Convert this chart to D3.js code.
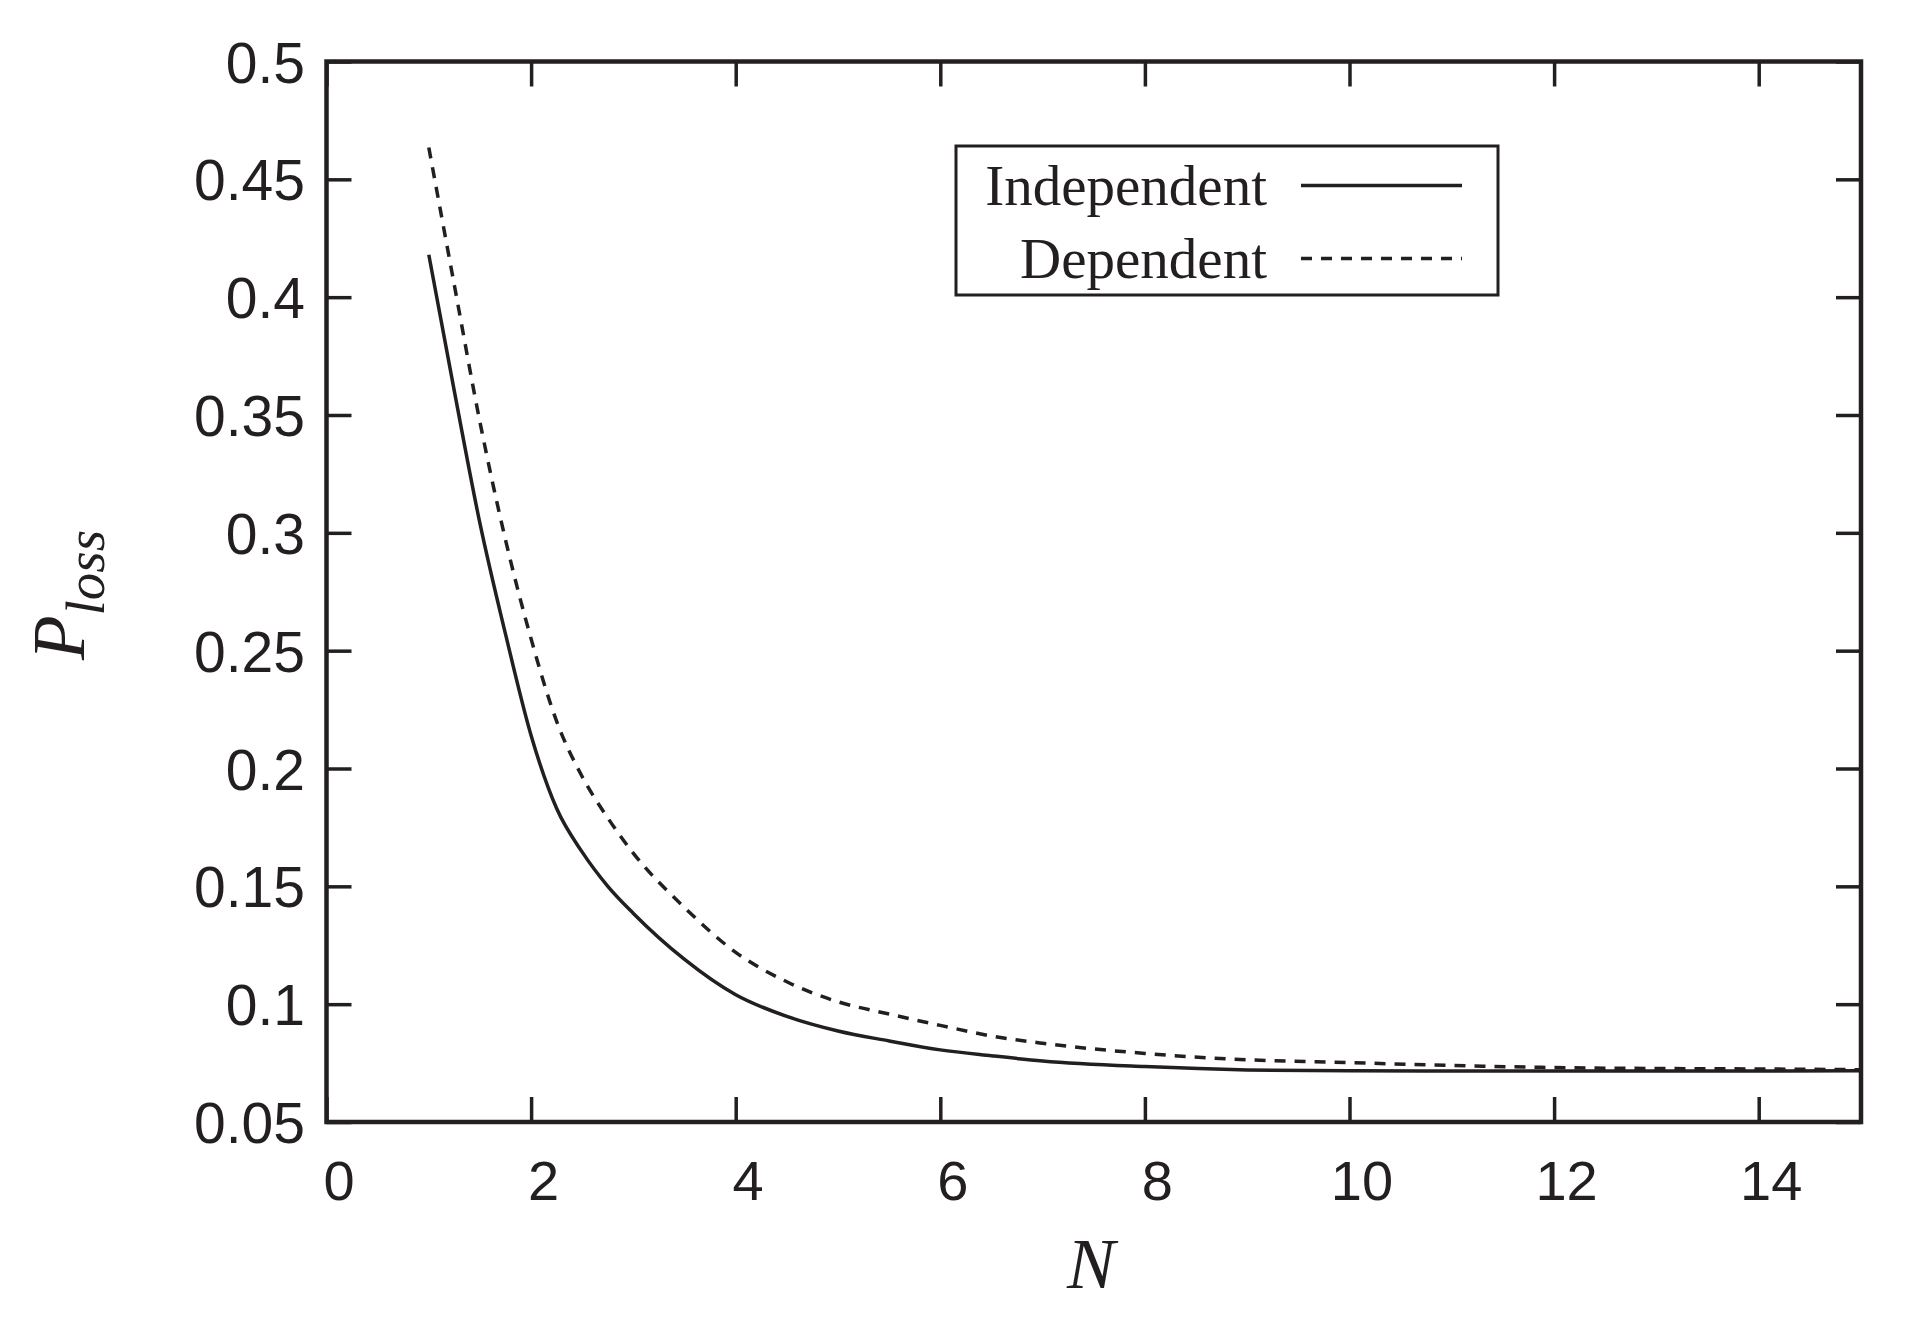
<!DOCTYPE html>
<html>
<head>
<meta charset="utf-8">
<script src="https://cdn.jsdelivr.net/npm/d3@7"></script>
<style>
  html, body { margin: 0; padding: 0; background: #ffffff; }
  svg { display: block; }
</style>
</head>
<body>
<svg id="chart" width="1910" height="1323"></svg>
<script>
// ---- Data ----
const nValues = [1, 1.25, 1.5, 1.75, 2, 2.25, 2.5, 2.75, 3, 3.5, 4, 4.5, 5, 5.5, 6, 6.5, 7, 8, 9, 10, 11, 12, 13, 14, 15];
const independentLoss = [0.418, 0.360, 0.304, 0.257, 0.214, 0.183, 0.1645, 0.150, 0.1385, 0.119, 0.104, 0.0948, 0.0886, 0.0844, 0.0806, 0.0781, 0.0759, 0.0735, 0.0721, 0.0717, 0.0716, 0.0716, 0.0716, 0.0716, 0.0717];
const dependentLoss = [0.4635, 0.405, 0.347, 0.297, 0.255, 0.220, 0.1965, 0.179, 0.164, 0.141, 0.122, 0.1095, 0.101, 0.0958, 0.091, 0.0865, 0.0834, 0.0791, 0.0764, 0.0752, 0.0740, 0.0731, 0.0727, 0.0725, 0.0722];
const seriesNames = ["Independent", "Dependent"];
const xTickValues = [0, 2, 4, 6, 8, 10, 12, 14];
const yTickValues = [0.05, 0.1, 0.15, 0.2, 0.25, 0.3, 0.35, 0.4, 0.45, 0.5];

(function () {
// ---- Layout ----
const INK = "#231f20";
const pL = 326.5, pR = 1861, pT = 61.5, pB = 1122;
const svg = d3.select("#chart");

const x = d3.scaleLinear().domain([0, 15]).range([pL, pR]);
const y = d3.scaleLinear().domain([0.05, 0.5]).range([pB, pT]);
const fmt = d => String(+d.toFixed(2));
const tickLen = 25;

// axes with inward ticks on all four sides
function styleAxis(g, size) {
  g.select(".domain").remove();
  g.selectAll(".tick line").attr("stroke", INK).attr("stroke-width", 3.5);
  g.selectAll(".tick text")
    .attr("fill", INK)
    .attr("font-family", "'Liberation Sans', Arial, Helvetica, sans-serif")
    .attr("font-size", size || 55);
}

svg.append("g")
  .attr("transform", `translate(0,${pB})`)
  .call(d3.axisBottom(x).tickValues(xTickValues).tickFormat(fmt).tickSize(-tickLen).tickPadding(38))
  .call(g => styleAxis(g, 56))
  .call(g => g.selectAll(".tick text").attr("dy", "0.71em").attr("x", 12));

svg.append("g")
  .attr("transform", `translate(0,${pT})`)
  .call(d3.axisTop(x).tickValues(xTickValues).tickFormat("").tickSize(-tickLen))
  .call(g => styleAxis(g));

svg.append("g")
  .attr("transform", `translate(${pL},0)`)
  .call(d3.axisLeft(y).tickValues(yTickValues).tickFormat(fmt).tickSize(-tickLen).tickPadding(21.5))
  .call(g => styleAxis(g, 57))
  .call(g => g.selectAll(".tick text").attr("dy", "0.36em"));

svg.append("g")
  .attr("transform", `translate(${pR},0)`)
  .call(d3.axisRight(y).tickValues(yTickValues).tickFormat("").tickSize(-tickLen))
  .call(g => styleAxis(g));

// frame
svg.append("rect")
  .attr("x", pL).attr("y", pT)
  .attr("width", pR - pL).attr("height", pB - pT)
  .attr("fill", "none").attr("stroke", INK).attr("stroke-width", 4.5);

// curves
const line = d3.line()
  .x((d, i) => x(nValues[i]))
  .y(d => y(d))
  .curve(d3.curveMonotoneX);

svg.append("path")
  .datum(independentLoss)
  .attr("d", line)
  .attr("fill", "none").attr("stroke", INK).attr("stroke-width", 3.5);

svg.append("path")
  .datum(dependentLoss)
  .attr("d", line)
  .attr("fill", "none").attr("stroke", INK).attr("stroke-width", 3.5)
  .attr("stroke-dasharray", "11,9");

// legend
const lg = svg.append("g");
lg.append("rect")
  .attr("x", 956).attr("y", 146).attr("width", 542).attr("height", 149)
  .attr("fill", "#fff").attr("stroke", INK).attr("stroke-width", 3);
const legendRows = [
  { name: seriesNames[0], base: 204.5, dash: null },
  { name: seriesNames[1], base: 277.5, dash: "11,9" }
];
legendRows.forEach(r => {
  lg.append("text")
    .attr("x", 1267).attr("y", r.base)
    .attr("text-anchor", "end")
    .attr("font-family", "'Liberation Serif', 'Times New Roman', serif")
    .attr("font-size", 57)
    .attr("fill", INK)
    .text(r.name);
  lg.append("line")
    .attr("x1", 1301).attr("x2", 1462)
    .attr("y1", r.base - 19).attr("y2", r.base - 19)
    .attr("stroke", INK).attr("stroke-width", 3.5)
    .attr("stroke-dasharray", r.dash);
});

// axis titles
svg.append("text")
  .attr("x", 1091).attr("y", 1288)
  .attr("text-anchor", "middle")
  .attr("font-family", "'Liberation Serif', 'Times New Roman', serif")
  .attr("font-style", "italic")
  .attr("font-size", 72)
  .attr("fill", INK)
  .text("N");

const yt = svg.append("text")
  .attr("transform", "translate(84,660) rotate(-90)")
  .attr("font-family", "'Liberation Serif', 'Times New Roman', serif")
  .attr("font-style", "italic")
  .attr("fill", INK);
yt.append("tspan").attr("font-size", 73).text("P");
yt.append("tspan").attr("font-size", 55).attr("dy", 20).text("loss");
})();
</script>
</body>
</html>
